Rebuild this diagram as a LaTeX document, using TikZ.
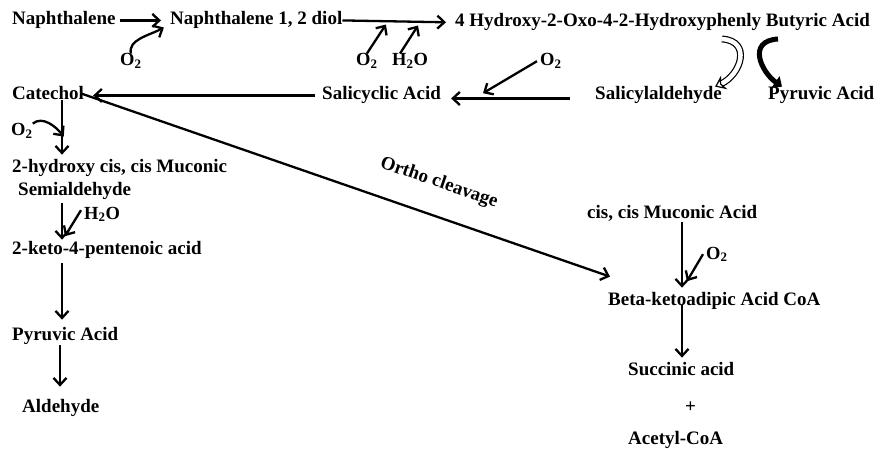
\documentclass[tikz,border=0pt]{standalone}
\usepackage{fontspec}
\setmainfont{Liberation Serif}
\usepackage{tikz}
\usetikzlibrary{arrows.meta}

\begin{document}
\begin{tikzpicture}[x=1pt,y=-1pt,
        chem/.style={anchor=base west,inner sep=0pt,font=\bfseries\fontsize{19}{21}\selectfont},
        gas/.style={anchor=base west,inner sep=0pt,font=\bfseries\fontsize{18.5}{20}\selectfont},
        rxn/.style={line width=2.3pt,-{Straight Barb[length=7pt,width=13pt]}},
        hollowrxn/.style={line width=1.2pt,double=white,double distance=4.5pt,-{Stealth[open,length=10pt,width=15pt,line width=1.2pt]}},
        solidrxn/.style={line width=5pt,-{Triangle[length=8pt,width=14pt]}}
    ]
    \useasboundingbox (0,0) rectangle (890,449);
    \coordinate (colL) at (62,0);
    \coordinate (colP) at (60,0);
    \coordinate (colR) at (682,0);
    \coordinate (splitA) at (722,39);
    \coordinate (splitB) at (778,39);

    \node[chem] (naph) at (12,25)  {Naphthalene};
    \node[chem] (diol) at (170,25) {Naphthalene 1, 2 diol};
    \node[chem] (hob)  at (455,27) {4 Hydroxy-2-Oxo-4-2-Hydroxyphenly Butyric Acid};
    \node[chem] (cat)  at (12,100) {Catechol};
    \node[chem] (sal)  at (322,100) {Salicyclic Acid};
    \node[chem] (sald) at (595,100) {Salicylaldehyde};
    \node[chem] (pyrA) at (768,100) {Pyruvic Acid};
    \node[chem] (hms)  at (12,172) {2-hydroxy cis, cis Muconic};
    \node[chem] (semi) at (18,195) {Semialdehyde};
    \node[chem] (keto) at (12,254) {2-keto-4-pentenoic acid};
    \node[chem] (pyrB) at (12,340) {Pyruvic Acid};
    \node[chem] (ald)  at (22,412) {Aldehyde};
    \node[chem] (muc)  at (587,218) {cis, cis Muconic Acid};
    \node[chem] (beta) at (608,305) {Beta-ketoadipic Acid CoA};
    \node[chem] (succ) at (628,375) {Succinic acid};
    \node[chem] (plus) at (685,412) {+};
    \node[chem] (acet) at (628,444) {Acetyl-CoA};
    \node[chem,anchor=center,rotate=-19] (ortho) at (439,183) {Ortho cleavage};

    \node[gas] (o2a)  at (120,66) {O\textsubscript{2}};
    \node[gas] (o2b)  at (356,66) {O\textsubscript{2}};
    \node[gas] (h2oa) at (392,66) {H\textsubscript{2}O};
    \node[gas] (o2c)  at (540,66) {O\textsubscript{2}};
    \node[gas] (o2d)  at (11,136) {O\textsubscript{2}};
    \node[gas] (h2ob) at (84,219) {H\textsubscript{2}O};
    \node[gas] (o2e)  at (706,259) {O\textsubscript{2}};

    \draw[rxn,shorten <=4pt,shorten >=9pt] (naph.east) -- (diol.west);
    \draw[rxn,shorten >=9pt] (diol.east) -- (hob.west);
    \draw[rxn] (o2a.north) .. controls +(-3,-14) and +(-15,8) .. ++(33,-26);
    \draw[rxn] (o2b.north) -- ++(19,-29);
    \draw[rxn] ([xshift=8pt]h2oa.north west) -- ++(18,-28);
    \draw[hollowrxn] (splitA) .. controls +(30,2) and +(26,-12) .. ([xshift=-7pt]sald.north east);
    \draw[solidrxn] (splitB) .. controls +(-32,2) and +(-20,-14) .. ([xshift=14pt]pyrA.north west);
    \draw[rxn,shorten <=25pt,shorten >=10pt] ([yshift=-3pt]sald.west) -- ([yshift=-3pt]sald.west -| sal.east);
    \draw[rxn] ([xshift=-3pt]o2c.west) -- ++(-54,32);
    \draw[rxn,shorten <=7pt,shorten >=9pt] (sal.west) -- (sal.west -| cat.east);
    \draw[rxn] ([xshift=-3pt]cat.east) -- ([shift={(2,-15)}]beta.north west);

    \draw[rxn,shorten >=4pt] (cat.south -| colL) -- (hms.north -| colL);
    \draw[rxn] (o2d.north east) .. controls +(10,-8) and +(-8,-10) .. ++(31,13);
    \draw[rxn,shorten <=4pt,shorten >=1pt] (semi.south -| colL) -- (keto.north -| colL);
    \draw[rxn] ([shift={(-3,-4)}]h2ob.west) -- ++(-16,26);
    \draw[rxn,shorten <=5pt,shorten >=7pt] (keto.south -| colL) -- (pyrB.north -| colL);
    \draw[rxn,shorten <=1pt,shorten >=12pt] (pyrB.south -| colP) -- (ald.north -| colP);

    \draw[rxn,shorten <=1pt,shorten >=4pt] (muc.south -| colR) -- (beta.north -| colR);
    \draw[rxn] ([shift={(-3,0)}]o2e.west) -- ++(-16,27);
    \draw[rxn,shorten <=-4pt,shorten >=4pt] (beta.south -| colR) -- (succ.north -| colR);
\end{tikzpicture}
\end{document}
